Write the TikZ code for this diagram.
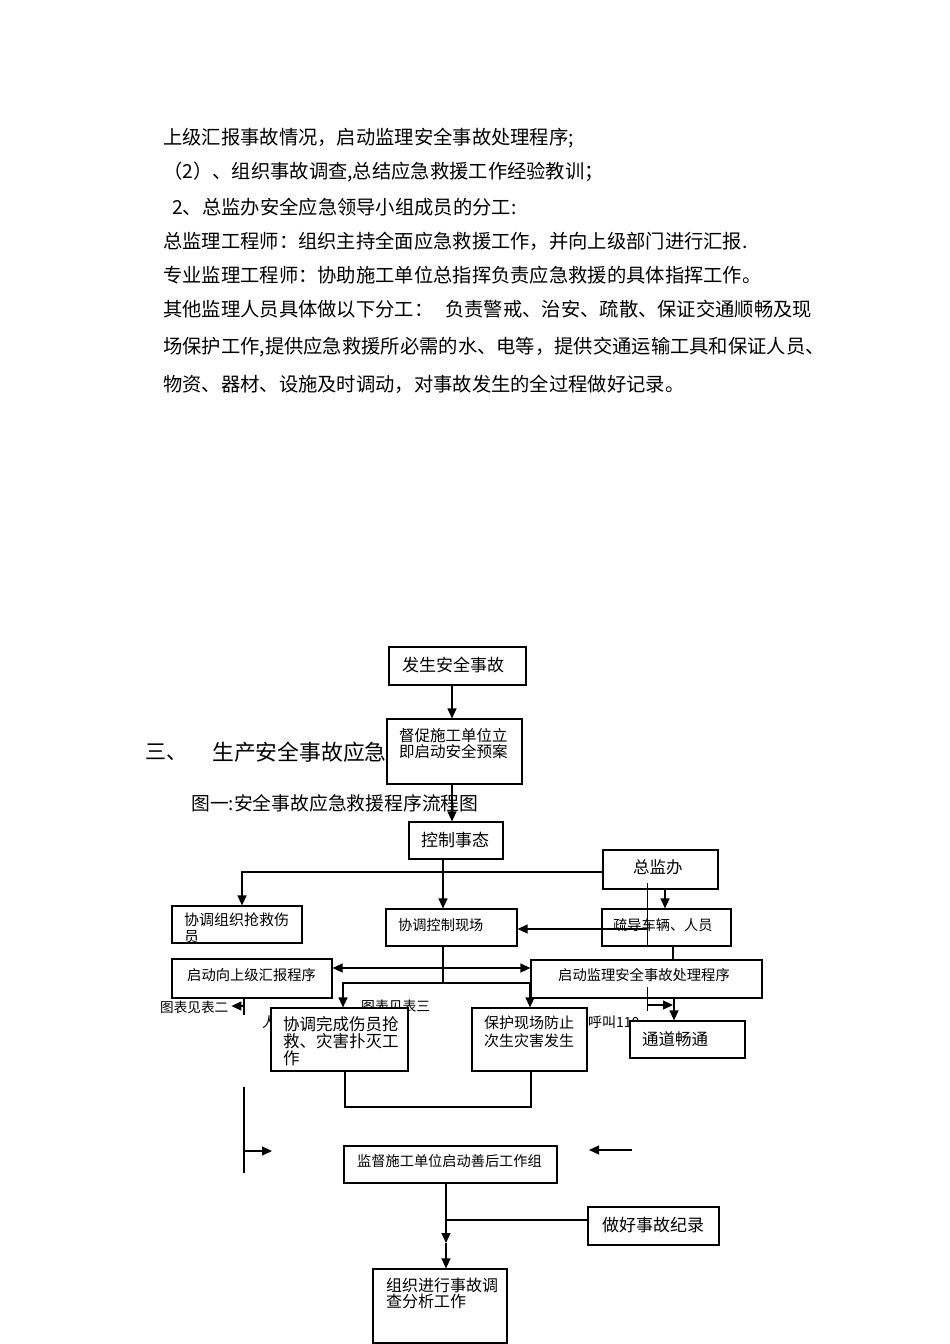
\documentclass[tikz,border=0pt]{standalone}
\usepackage{fontspec}
\setmainfont{Noto Sans CJK SC}
\usetikzlibrary{arrows.meta,fit}
\newcommand\myfs[2]{\fontsize{#1}{#2}\selectfont}
\begin{document}
\begin{tikzpicture}[x=1pt,y=-1pt,
  box/.style={draw,line width=1.2pt,fill=white,inner sep=0pt},
  ln/.style={line width=1.2pt},
  thinln/.style={line width=0.9pt},
  arr/.style={ln,-{Triangle[length=10pt,width=9pt]}},
  arrr/.style={ln,{Triangle[length=10pt,width=9pt]}-{Triangle[length=10pt,width=9pt]}},
  txt/.style={inner sep=0pt,anchor=west},
  mtxt/.style={inner sep=0pt,anchor=north west,align=left},
]
\useasboundingbox (0,0) rectangle (950,1344);

% ---- body text ----
\begin{scope}[every node/.style={txt,font=\myfs{19.3}{20}}]
\node (p1) at (163,138) {上级汇报事故情况，启动监理安全事故处理程序;};
\node (p2) at (163,172) {（2）、组织事故调查,总结应急救援工作经验教训；};
\node (p3) at (172,207) {2、总监办安全应急领导小组成员的分工:};
\node (p4) at (163,241) {总监理工程师：组织主持全面应急救援工作，并向上级部门进行汇报.};
\node (p5) at (163,275) {专业监理工程师：协助施工单位总指挥负责应急救援的具体指挥工作。};
\node (p6) at (163,309) {其他监理人员具体做以下分工：\hspace{12pt}负责警戒、治安、疏散、保证交通顺畅及现};
\node (p7) at (163,347) {场保护工作,提供应急救援所必需的水、电等，提供交通运输工具和保证人员、};
\node (p8) at (163,384) {物资、器材、设施及时调动，对事故发生的全过程做好记录。};
\end{scope}

% ---- headings and free labels (behind boxes) ----
\node[txt,font=\myfs{21}{22}] (h1) at (145,752) {三、};
\node[txt,font=\myfs{21.8}{22}] (h2) at (212,752) {生产安全事故应急};
\node[txt,font=\myfs{18.8}{20}] (cap) at (191,803) {图一:安全事故应急救援程序流程图};
\node[txt,font=\myfs{13.6}{14}] (t2) at (160,1007) {图表见表二};
\node[txt,font=\myfs{13.8}{14}] (t3) at (361,1006) {图表见表三};
\node[txt,font=\myfs{14}{14}] (tr) at (262,1022) {人};
\node[txt,font=\myfs{14}{14}] (t110) at (588,1022) {呼叫110};

% ---- boxes ----
\node[box,fit={(389,647) (526,685)}] (occ) {};
\node[box,fit={(387,719) (522,784)}] (urge) {};
\node[box,fit={(409,822) (503,859)}] (ctrl) {};
\node[box,fit={(603,850) (718,889)}] (zjb) {};
\node[box,fit={(172,906) (302,943)}] (rescue) {};
\node[box,fit={(386,909) (517,946)}] (site) {};
\node[box,fit={(602,909) (731,946)}] (guide) {};
\node[box,fit={(172,959) (332,998)}] (report) {};
\node[box,fit={(531,960) (762,998)}] (proc) {};
\node[box,fit={(271,1008) (408,1071)}] (finish) {};
\node[box,fit={(472,1008) (587,1071)}] (protect) {};
\node[box,fit={(630,1021) (745,1058)}] (road) {};
\node[box,fit={(344,1146) (557,1183)}] (after) {};
\node[box,fit={(588,1207) (719,1245)}] (record) {};
\node[box,fit={(373,1269) (507,1343)}] (invest) {};

% ---- box texts ----
\node[txt,font=\myfs{17}{18}] (occT) at (402,665) {发生安全事故};
\node[mtxt,font=\myfs{15.5}{16}] (urgeT) at (399,728) {督促施工单位立\\即启动安全预案};
\node[txt,font=\myfs{17}{18}] (ctrlT) at (421,840) {控制事态};
\node[txt,font=\myfs{16.5}{17}] (zjbT) at (633,867) {总监办};
\node[mtxt,font=\myfs{15}{16.5}] (rescueT) at (184,913) {协调组织抢救伤\\员};
\node[txt,font=\myfs{14.2}{15}] (siteT) at (398,925) {协调控制现场};
\node[txt,font=\myfs{14.2}{15}] (guideT) at (613,925) {疏导车辆、人员};
\node[txt,font=\myfs{14.3}{15}] (reportT) at (187,975) {启动向上级汇报程序};
\node[txt,font=\myfs{14.3}{15}] (procT) at (558,975) {启动监理安全事故处理程序};
\node[mtxt,font=\myfs{16.5}{17}] (finishT) at (283,1016) {协调完成伤员抢\\救、灾害扑灭工\\作};
\node[mtxt,font=\myfs{15}{17.5}] (protectT) at (484,1016) {保护现场防止\\次生灾害发生};
\node[txt,font=\myfs{16.5}{17}] (roadT) at (642,1039) {通道畅通};
\node[txt,font=\myfs{14.2}{15}] (afterT) at (357,1161) {监督施工单位启动善后工作组};
\node[txt,font=\myfs{17}{18}] (recordT) at (602,1225) {做好事故纪录};
\node[mtxt,font=\myfs{16}{16}] (investT) at (386,1278) {组织进行事故调\\查分析工作};

% ---- connectors ----
\draw[arr] (occ.south -| 452,0) -- (urge.north -| 452,0);
\draw[arr] (urge.south -| 452,0) -- (ctrl.north -| 452,0);
\draw[arr] (ctrl.south -| 443,0) -- (site.north -| 443,0);
\draw[arr] (zjb.west |- 0,872) -- (242,872) -- (rescue.north -| 242,0);
\draw[arr] (zjb.south -| 665,0) -- (guide.north -| 665,0);
\coordinate (g1) at (647,883);
\coordinate (g2) at (647,945);
\coordinate (g3) at (647,929);
\draw[thinln] (g1) -- (g2);
\draw[arr] (g3) -- (site.east |- g3);
\draw[ln] (guide.south -| 673,0) -- (proc.north -| 673,0);
\draw[arrr] (report.east |- 0,968) -- (proc.west |- 0,968);
\coordinate (j1) at (443,983);
\draw[ln] (site.south -| j1) -- (j1);
\draw[arr] (j1) -- (343,983) -- (finish.north -| 343,0);
\draw[arr] (j1) -- (530,983) -- (protect.north -| 530,0);
\coordinate (k1) at (244,1006);
\draw[ln] (report.south -| k1) -- (244,1015);
\draw[arr] (k1) -- ([xshift=3pt]t2.east |- k1);
\coordinate (r1) at (647,987);
\coordinate (r2) at (647,1011);
\coordinate (r3) at (647,1005);
\draw[thinln] (r1) -- (r2);
\draw[arr] (r3) -- (673,1005);
\draw[arr] (proc.south -| 674,0) -- (road.north -| 674,0);
\draw[ln] (finish.south -| 345,0) -- (345,1107) -- (531,1107) -- (protect.south -| 531,0);
\coordinate (v1) at (244,1087);
\coordinate (v2) at (244,1173);
\coordinate (v3) at (244,1151);
\draw[ln] (v1) -- (v2);
\draw[arr] (v3) -- (272,1151);
\coordinate (w1) at (632,1150);
\draw[arr] (w1) -- (589,1150);
\coordinate (m1) at (446,1243);
\coordinate (m2) at (446,1220);
\draw[arr] (after.south -| m1) -- (m1);
\draw[arr] (m1) -- (invest.north -| m1);
\draw[ln] (m2) -- (record.west |- m2);
\end{tikzpicture}
\end{document}
